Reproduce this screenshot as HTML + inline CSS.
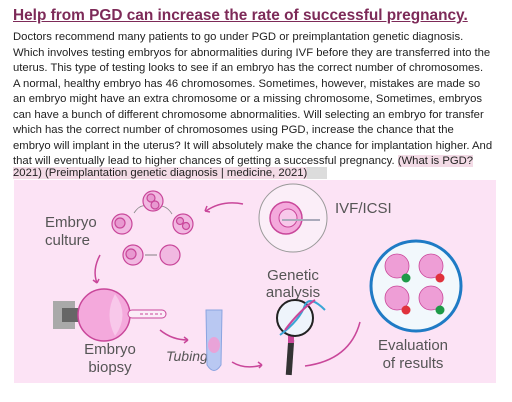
<!DOCTYPE html>
<html><head><meta charset="utf-8"><style>
body{margin:0;width:512px;height:402px;background:#fff;overflow:hidden;position:relative;font-family:"Liberation Sans",Arial,sans-serif}
.t{position:absolute;left:13px;top:7px;font-size:15.4px;font-weight:bold;color:#7d2a58;text-decoration:underline;white-space:nowrap}
.l{position:absolute;left:13px;font-size:11.3px;color:#222;white-space:nowrap;line-height:13px}
.hl{background:#f3dbe6}
.hg{background:#dcdcdc}
svg{position:absolute;left:0;top:0}
</style></head><body>
<div class="t">Help from PGD can increase the rate of successful pregnancy.</div>
<div>
<div class="l" style="top:31px">Doctors recommend many patients to go under PGD or preimplantation genetic diagnosis.</div>
<div class="l" style="top:46.5px">Which involves testing embryos for abnormalities during IVF before they are transferred into the</div>
<div class="l" style="top:62px">uterus. This type of testing looks to see if an embryo has the correct number of chromosomes.</div>
<div class="l" style="top:77.5px">A normal, healthy embryo has 46 chromosomes. Sometimes, however, mistakes are made so</div>
<div class="l" style="top:93px">an embryo might have an extra chromosome or a missing chromosome, Sometimes, embryos</div>
<div class="l" style="top:108.5px">can have a bunch of different chromosome abnormalities. Will selecting an embryo for transfer</div>
<div class="l" style="top:124px">which has the correct number of chromosomes using PGD, increase the chance that the</div>
<div class="l" style="top:139.5px">embryo will implant in the uterus? It will absolutely make the chance for implantation higher. And</div>
<div class="l" style="top:155px">that will eventually lead to higher chances of getting a successful pregnancy. <span class="hl">(What is PGD?</span></div>
<div class="l" style="top:167px"><span class="hl">2021) (Preimplantation genetic diagnosis | medicine, 2021)</span><span class="hg" style="padding-right:20px"></span></div>
</div>
<svg width="512" height="402" viewBox="0 0 512 402" font-family="Liberation Sans, Arial, sans-serif">
<rect x="14" y="180" width="482" height="203" fill="#fce3f5"/>
<g fill="none" stroke="#c9479a" stroke-width="1.5">
<path d="M243 204 Q222 200 206 211"/><path d="M205 211 l2 -5 M205 211 l5 1"/>
<path d="M100 255 Q92 270 97 283"/><path d="M97 283 l-4 -3 M97 283 l2 -4"/>
<path d="M160 330 Q172 340 188 340"/><path d="M188 340 l-4 -3 M188 340 l-4 3"/>
<path d="M232 362 Q245 370 262 365"/><path d="M262 365 l-4 -3 M262 365 l-3 3"/>
<path d="M305 366 Q350 360 360 322"/>
</g>
<g fill="#f1b8e1" stroke="#c9479a" stroke-width="1.2">
<path d="M134 213 Q140 204 147 206 M160 206 Q167 206 172 214" fill="none" stroke="#888" stroke-width="0.8"/>
<circle cx="153" cy="201" r="10"/><circle cx="122" cy="224" r="10"/><circle cx="183" cy="224" r="10"/>
<circle cx="133" cy="255" r="10"/><circle cx="170" cy="255" r="10"/>
<circle cx="120" cy="223" r="5" fill="#e899d0"/><circle cx="131" cy="254" r="5" fill="#e899d0"/>
<circle cx="151" cy="198" r="4" fill="#e899d0"/><circle cx="155" cy="205" r="4" fill="#e899d0"/>
<circle cx="180" cy="221" r="3.5" fill="#e899d0"/><circle cx="186" cy="226" r="3.5" fill="#e899d0"/>
<line x1="145" y1="255" x2="157" y2="255" stroke="#666" stroke-width="0.8"/>
</g>
<text x="45" y="227" font-size="15" fill="#555">Embryo</text>
<text x="45" y="245" font-size="15" fill="#555">culture</text>
<g>
<circle cx="293" cy="218" r="34" fill="#fbeef8" stroke="#999" stroke-width="1"/>
<circle cx="286" cy="218" r="16" fill="#f4a9dc" stroke="#c9479a" stroke-width="1.5"/>
<circle cx="288" cy="218" r="9" fill="#f8c8ea" stroke="#c9479a"/>
<line x1="282" y1="220" x2="320" y2="220" stroke="#aab" stroke-width="2"/>
</g>
<text x="335" y="213" font-size="15" fill="#555">IVF/ICSI</text>
<g>
<rect x="53" y="301" width="22" height="28" fill="#a9a9a9"/>
<path d="M62 308 L78 308 L80 312 L80 318 L78 322 L62 322 Z" fill="#666"/>
<circle cx="104" cy="315" r="26" fill="#f4a9dc" stroke="#c9479a" stroke-width="1.5"/>
<path d="M115 294 Q104 315 115 336 Q130 315 115 294" fill="#f8c8ea"/>
<rect x="128" y="310" width="38" height="8" rx="4" fill="#fbeef8" stroke="#c9479a"/>
<line x1="140" y1="314" x2="162" y2="314" stroke="#c9479a" stroke-dasharray="3 2"/>
</g>
<text x="110" y="354" font-size="15" fill="#555" text-anchor="middle">Embryo</text>
<text x="110" y="372" font-size="15" fill="#555" text-anchor="middle">biopsy</text>
<text x="166" y="361" font-size="14" font-style="italic" fill="#555">Tubing</text>
<g>
<path d="M206 310 L222 310 L221 365 Q214 376 207 365 Z" fill="#b9c8f2" stroke="#8aa4e0"/>
<ellipse cx="214" cy="345" rx="6" ry="8" fill="#e9a3d8"/>
</g>
<text x="293" y="280" font-size="15" fill="#555" text-anchor="middle">Genetic</text>
<text x="293" y="297" font-size="15" fill="#555" text-anchor="middle">analysis</text>
<g>
<rect x="287" y="340" width="6" height="35" fill="#333" transform="rotate(4 290 357)"/>
<rect x="288" y="335" width="6" height="8" fill="#c9479a"/>
<circle cx="295" cy="318" r="18" fill="#eef4fb" stroke="#222" stroke-width="2"/>
<path d="M280 335 Q300 320 305 305 Q310 295 325 310" fill="none" stroke="#3aa6d6" stroke-width="2"/>
<path d="M285 330 Q300 310 315 300" fill="none" stroke="#c9479a" stroke-width="2"/>
</g>
<g>
<circle cx="416" cy="286" r="45" fill="#f2f8fc" stroke="#1f7bc5" stroke-width="3"/>
<circle cx="397" cy="266" r="12" fill="#ee9ed6" stroke="#c9479a" stroke-width="0.8"/>
<circle cx="431" cy="266" r="12" fill="#ee9ed6" stroke="#c9479a" stroke-width="0.8"/>
<circle cx="397" cy="298" r="12" fill="#ee9ed6" stroke="#c9479a" stroke-width="0.8"/>
<circle cx="431" cy="298" r="12" fill="#ee9ed6" stroke="#c9479a" stroke-width="0.8"/>
<circle cx="406" cy="278" r="4.5" fill="#1e9a48"/><circle cx="440" cy="278" r="4.5" fill="#e0313b"/>
<circle cx="406" cy="310" r="4.5" fill="#e0313b"/><circle cx="440" cy="310" r="4.5" fill="#1e9a48"/>
</g>
<text x="413" y="350" font-size="15" fill="#555" text-anchor="middle">Evaluation</text>
<text x="413" y="368" font-size="15" fill="#555" text-anchor="middle">of results</text>
</svg>
</body></html>
